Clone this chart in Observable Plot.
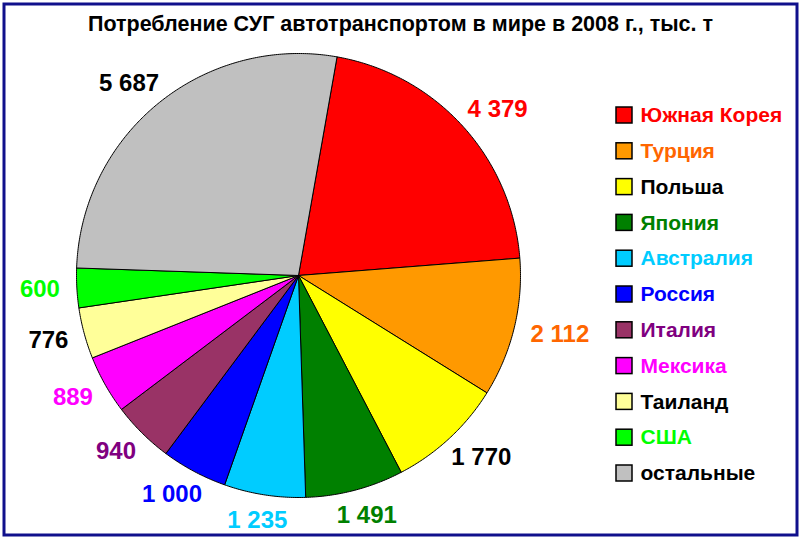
<!DOCTYPE html>
<html><head><meta charset="utf-8">
<script src="https://cdn.jsdelivr.net/npm/d3@7"></script>
<script src="https://cdn.jsdelivr.net/npm/@observablehq/plot@0.6"></script>
<style>body{margin:0;background:#fff}</style>
</head><body><div id="chart"></div>
<script>
const title = "Потребление СУГ автотранспортом в мире в 2008 г., тыс. т";
const countries = ["Южная Корея", "Турция", "Польша", "Япония", "Австралия", "Россия", "Италия", "Мексика", "Таиланд", "США", "остальные"];
const values = [4379, 2112, 1770, 1491, 1235, 1000, 940, 889, 776, 600, 5687];
const sliceColors = ["#FF0000", "#FF9900", "#FFFF00", "#008000", "#00CCFF", "#0000FF", "#993366", "#FF00FF", "#FFFF99", "#00FF00", "#C0C0C0"];
const textColors = ["#FF0000", "#FF6600", "#000000", "#008000", "#00CCFF", "#0000FF", "#800080", "#FF00FF", "#000000", "#00FF00", "#000000"];

const W = 800, H = 538;
const CX = 298, CY = 275, R = 222;
const START = 10 * Math.PI / 180;
const FONT = "'Liberation Sans', Arial, sans-serif";
const LABEL_FS = 24;
const GAP = 17;

const fmt = d3.formatLocale({thousands: " ", grouping: [3], decimal: ","}).format(",");
const rows = countries.map((name, i) => ({name, value: values[i], fill: sliceColors[i], text: textColors[i], i}));
const arcs = d3.pie().sort(null).value(d => d.value).startAngle(START).endAngle(START + 2 * Math.PI)(rows);

const polar = (a, r) => [CX + r * Math.sin(a), CY - r * Math.cos(a)];

// slice outlines: centre -> arc -> centre
const slicePts = [];
for (const a of arcs) {
  const n = Math.max(2, Math.ceil((a.endAngle - a.startAngle) / (0.5 * Math.PI / 180)));
  slicePts.push({name: a.data.name, fill: a.data.fill, x: CX, y: CY});
  for (let k = 0; k <= n; ++k) {
    const t = a.startAngle + (a.endAngle - a.startAngle) * k / n;
    const [x, y] = polar(t, R);
    slicePts.push({name: a.data.name, fill: a.data.fill, x, y});
  }
  slicePts.push({name: a.data.name, fill: a.data.fill, x: CX, y: CY});
}

// outside-end value labels
const labels = arcs.map(a => {
  const m = (a.startAngle + a.endAngle) / 2;
  const ux = Math.sin(m), uy = -Math.cos(m);
  const s = fmt(a.data.value);
  const w = [...s].reduce((acc, c) => acc + (c === " " ? 0.278 : 0.556), 0) * LABEL_FS;
  const h = 0.72 * LABEL_FS;
  return {s, color: a.data.text, x: CX + (R + GAP) * ux + w / 2 * ux, y: CY + (R + GAP) * uy + h / 2 * uy};
});

const LEG_X = 616, LEG_Y = 115, LEG_DY = 35.8, SQ = 16;
const legend = rows.map((d, i) => ({...d, cy: LEG_Y + i * LEG_DY}));

const chart = Plot.plot({
  width: W, height: H,
  margin: 0,
  x: {domain: [0, W], range: [0, W], axis: null},
  y: {domain: [0, H], range: [0, H], axis: null},
  color: {type: "identity"},
  style: {background: "#fff", fontFamily: FONT},
  marks: [
    Plot.frame({stroke: "#10108C", strokeWidth: 3, inset: 3.5}),
    Plot.text([title], {x: () => W / 2, y: () => 24, text: d => d, fontSize: 21.5, fontWeight: "bold", fill: "#000"}),
    Plot.line(slicePts, {x: "x", y: "y", z: "name", fill: "fill", stroke: "#000", strokeWidth: 1, curve: "linear", strokeLinejoin: "round"}),
    Plot.text(labels, {x: "x", y: "y", text: "s", fill: "color", fontSize: LABEL_FS, fontWeight: "bold", textAnchor: "middle", lineAnchor: "middle"}),
    Plot.rect(legend, {x1: () => LEG_X, x2: () => LEG_X + SQ, y1: d => d.cy - SQ / 2, y2: d => d.cy + SQ / 2, fill: "fill", stroke: "#000", strokeWidth: 1.5}),
    Plot.text(legend, {x: () => LEG_X + 24, y: "cy", text: "name", fill: "text", fontSize: 21, fontWeight: "bold", textAnchor: "start", lineAnchor: "middle"})
  ]
});
document.getElementById("chart").appendChild(chart);
</script>
</body></html>
